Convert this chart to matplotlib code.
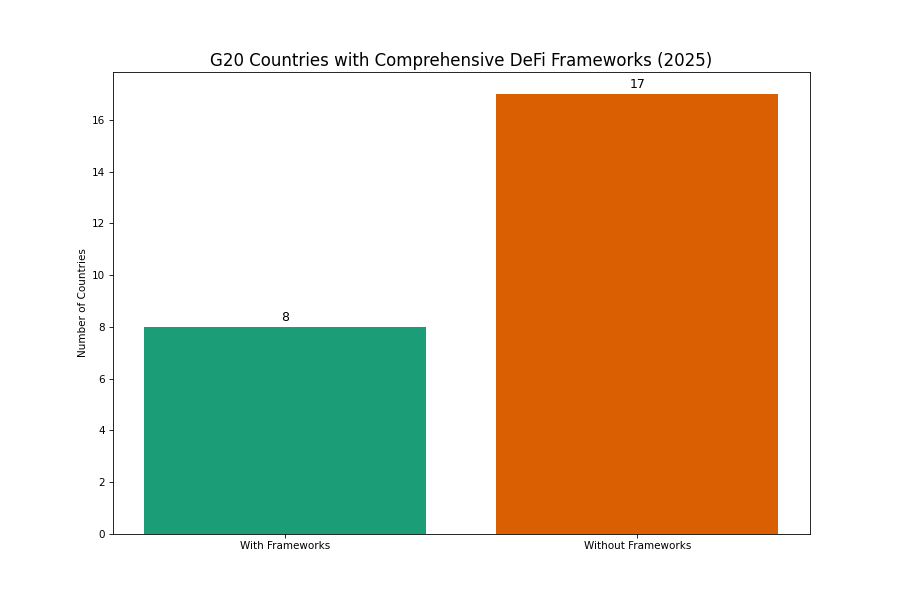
import matplotlib
matplotlib.use("Agg")
import matplotlib.pyplot as plt

# chart data
categories = ["With Frameworks", "Without Frameworks"]
counts = [8, 17]
bar_colors = ["#1b9e77", "#d95f02"]

# 12x8 inches at 75 dpi -> 900x600 px
fig, ax = plt.subplots(figsize=(12, 8), dpi=75)
bars = ax.bar(categories, counts, color=bar_colors)

# value labels above each bar
for b, v in zip(bars, counts):
    ax.text(b.get_x() + b.get_width() / 2, v + 0.1, str(v),
            ha="center", va="bottom", fontsize=12)

ax.set_title("G20 Countries with Comprehensive DeFi Frameworks (2025)", fontsize=16)
ax.set_ylabel("Number of Countries")

fig.savefig("out.png", dpi=75)
